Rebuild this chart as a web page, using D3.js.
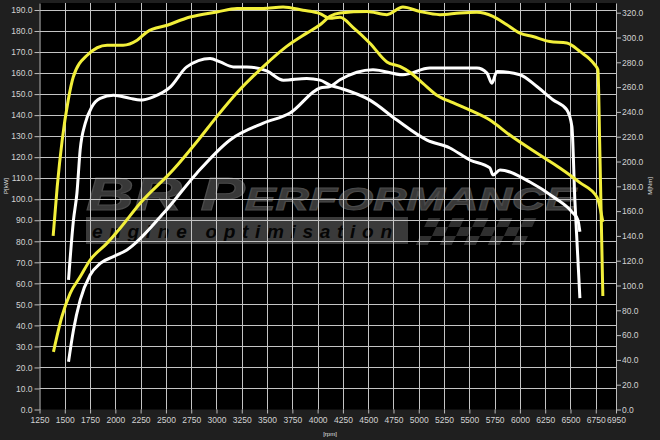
<!DOCTYPE html>
<html>
<head>
<meta charset="utf-8">
<script src="https://cdn.jsdelivr.net/npm/d3@7"></script>
<style>
  html, body { margin: 0; padding: 0; background: #1f1f1f; }
  svg { display: block; }
</style>
</head>
<body>
<svg width="660" height="440"></svg>
<script>
// power curves, left axis
var yellowPowerRpm = [1388, 1471, 1553, 1652, 1751, 1916, 2047, 2245, 2572, 2820, 3003, 3200, 3463, 3694, 3892, 4024, 4122, 4221, 4488, 4685, 4843, 5011, 5209, 5407, 5575, 5733, 5871, 6000, 6128, 6296, 6464, 6593, 6741, 6771, 6790, 6820];
var yellowPower = [27.4, 44.1, 55.2, 63.1, 71.1, 79, 86.2, 98.1, 114, 128.2, 139.3, 150.5, 163.1, 172.7, 179, 183, 187, 188.6, 189.3, 187.8, 191.4, 189.3, 187.8, 188.6, 188.9, 187, 183, 179, 177.4, 175, 174.3, 170.3, 163.9, 161.6, 123.5, 54];

var whitePowerRpm = [1537, 1586, 1652, 1751, 1850, 1981, 2114, 2475, 2805, 3134, 3463, 3727, 4024, 4122, 4221, 4547, 4843, 5110, 5575, 5674, 5723, 5773, 6000, 6168, 6326, 6464, 6514, 6543, 6593];
var whitePower = [22.7, 37.8, 52, 64, 69.5, 72.7, 75.9, 93.3, 112.4, 128.2, 136.2, 141, 152.9, 153.6, 156.8, 161.6, 159.2, 162.4, 162.4, 160, 155.2, 160.8, 159.2, 153.6, 147.3, 142.5, 134.6, 99.7, 53];

// torque curves, right axis
var yellowTorqueRpm = [1385, 1425, 1474, 1534, 1583, 1721, 1919, 2077, 2215, 2314, 2512, 2739, 3006, 3203, 3460, 3658, 3855, 4023, 4122, 4221, 4349, 4517, 4685, 4813, 4912, 5041, 5179, 5337, 5505, 5703, 5900, 6197, 6395, 6593, 6761, 6820];
var yellowTorque = [140, 179.5, 217, 249.5, 268, 285.7, 293.8, 293.8, 297.8, 304.5, 309.9, 316.5, 320.6, 323.3, 323.3, 324.6, 322, 319.3, 315.5, 316.3, 308.2, 295.4, 280.3, 276.7, 272, 263, 253.5, 247.4, 241.4, 233.4, 221.3, 205.2, 194.8, 183, 171.4, 151.3];

var whiteTorqueRpm = [1537, 1586, 1620, 1652, 1702, 1768, 1850, 1981, 2146, 2245, 2376, 2545, 2706, 2937, 3036, 3167, 3299, 3497, 3661, 3892, 4024, 4122, 4221, 4517, 4784, 5081, 5308, 5505, 5703, 5733, 5803, 6099, 6346, 6514, 6573, 6593];
var whiteTorque = [104.6, 152.9, 174.4, 209.3, 230.7, 244.1, 250.9, 253.5, 250.9, 249.5, 252.2, 260.2, 276.3, 283.1, 280.3, 276.3, 276.3, 273.1, 265.6, 267, 265.6, 261.6, 259.2, 249.5, 233.4, 217.3, 210.9, 201.2, 194.8, 189.1, 193.2, 183.5, 170.6, 159.4, 152.9, 143.3];

var rpmTicks = d3.range(1250, 6751, 250).concat([6950]);
var leftTicks = d3.range(0, 191, 10);
var rightTicks = d3.range(0, 321, 20);

var svg = d3.select("svg");
var plotL = 39.5, plotR = 616, plotT = 3, plotB = 409.5;

var x = d3.scaleLinear().domain([1250, 6950]).range([plotL, plotR]);
var yL = d3.scaleLinear().domain([0, (plotB - plotT) / ((plotB - 10) / 190)]).range([plotB, plotT]);
var yR = d3.scaleLinear().domain([0, (plotB - plotT) / ((plotB - 12.7) / 320)]).range([plotB, plotT]);

svg.append("rect").attr("x", plotL).attr("y", plotT)
    .attr("width", plotR - plotL).attr("height", plotB - plotT).attr("fill", "#000");

// watermark
var wm = svg.append("g");
wm.append("text")
    .attr("x", 86).attr("y", 210)
    .attr("font-family", "Liberation Sans, Arial, sans-serif")
    .attr("font-style", "italic").attr("font-weight", "bold")
    .attr("fill", "#383838").attr("stroke", "#4a4a4a").attr("stroke-width", 1)
    .attr("textLength", 490).attr("lengthAdjust", "spacingAndGlyphs")
    .call(function(t) {
        t.append("tspan").attr("font-size", 46).text("BR P");
        t.append("tspan").attr("font-size", 32).text("ERFORMANCE");
    });
wm.append("rect").attr("x", 86).attr("y", 217).attr("width", 322).attr("height", 27).attr("fill", "#3a3a3a");
wm.append("text")
    .attr("x", 92).attr("y", 238)
    .attr("font-family", "Liberation Sans, Arial, sans-serif")
    .attr("font-style", "italic").attr("font-weight", "bold").attr("font-size", 19)
    .attr("fill", "#050505")
    .attr("textLength", 300).attr("lengthAdjust", "spacing")
    .text("engine optimisation");
// chequered flag hint
var flag = wm.append("g").attr("transform", "translate(520,0) skewX(-25) translate(-520,0)");
d3.range(0, 9).forEach(function(i) {
    d3.range(0, 3).forEach(function(j) {
        if ((i + j) % 2 === 0) {
            flag.append("rect")
                .attr("x", 530 + i * 12).attr("y", 218 + j * 9)
                .attr("width", 12).attr("height", 9)
                .attr("fill", "#2f2f2f");
        }
    });
});

// grid
var grid = svg.append("g").attr("stroke", "#c4c4c4").attr("stroke-width", 1);
grid.selectAll("line.v").data(rpmTicks.filter(function(d) { return d > 1250 && d < 6950; }))
  .enter().append("line")
    .attr("x1", function(d) { return Math.round(x(d)) + 0.5; })
    .attr("x2", function(d) { return Math.round(x(d)) + 0.5; })
    .attr("y1", plotT).attr("y2", plotB);
grid.selectAll("line.h").data(leftTicks.filter(function(d) { return d > 0; }))
  .enter().append("line")
    .attr("y1", function(d) { return Math.round(yL(d)) + 0.5; })
    .attr("y2", function(d) { return Math.round(yL(d)) + 0.5; })
    .attr("x1", plotL).attr("x2", plotR);

// axes
function styleAxis(g) {
    g.select(".domain").attr("stroke", "#bdbdbd");
    g.selectAll(".tick line").attr("stroke", "#bdbdbd");
    g.selectAll(".tick text").attr("fill", "#d2d2d2")
        .attr("font-family", "Liberation Sans, Arial, sans-serif").attr("font-size", 8.5);
}
svg.append("g").attr("transform", "translate(" + plotL + ",0)")
    .call(d3.axisLeft(yL).tickValues(leftTicks).tickFormat(d3.format(".1f")).tickSize(5).tickSizeOuter(0).tickPadding(2))
    .call(styleAxis);
svg.append("g").attr("transform", "translate(" + plotR + ",0)")
    .call(d3.axisRight(yR).tickValues(rightTicks).tickFormat(d3.format(".1f")).tickSize(5).tickSizeOuter(0).tickPadding(1))
    .call(styleAxis);
svg.append("g").attr("transform", "translate(0," + plotB + ")")
    .call(d3.axisBottom(x).tickValues(rpmTicks).tickFormat(d3.format("d")).tickSize(4).tickSizeOuter(0).tickPadding(3))
    .call(styleAxis)
    .call(function(g) { g.select(".domain").remove(); });

// axis titles
function applyLab(t) {
    t.attr("font-family", "Liberation Sans, Arial, sans-serif").attr("font-size", 6).attr("fill", "#e0e0e0");
}
svg.append("text").attr("transform", "translate(8,186) rotate(-90)").attr("text-anchor", "middle").text("P[kW]").call(applyLab);
svg.append("text").attr("transform", "translate(652,186) rotate(-90)").attr("text-anchor", "middle").text("M[Nm]").call(applyLab);
svg.append("text").attr("x", 330).attr("y", 436).attr("text-anchor", "middle").text("[rpm]").call(applyLab);

// curves
function zip(a, b) { return a.map(function(d, i) { return [d, b[i]]; }); }
function drawCurve(data, yScale, color) {
    var line = d3.line()
        .x(function(d) { return x(d[0]); })
        .y(function(d) { return yScale(d[1]); })
        .curve(d3.curveMonotoneX);
    svg.append("path")
        .datum(data)
        .attr("fill", "none")
        .attr("stroke", color)
        .attr("stroke-width", 3)
        .attr("stroke-linejoin", "round")
        .attr("stroke-linecap", "butt")
        .attr("d", line);
}
drawCurve(zip(whitePowerRpm, whitePower), yL, "#ffffff");
drawCurve(zip(whiteTorqueRpm, whiteTorque), yR, "#ffffff");
drawCurve(zip(yellowPowerRpm, yellowPower), yL, "#f2ef3a");
drawCurve(zip(yellowTorqueRpm, yellowTorque), yR, "#f2ef3a");
</script>
</body>
</html>
